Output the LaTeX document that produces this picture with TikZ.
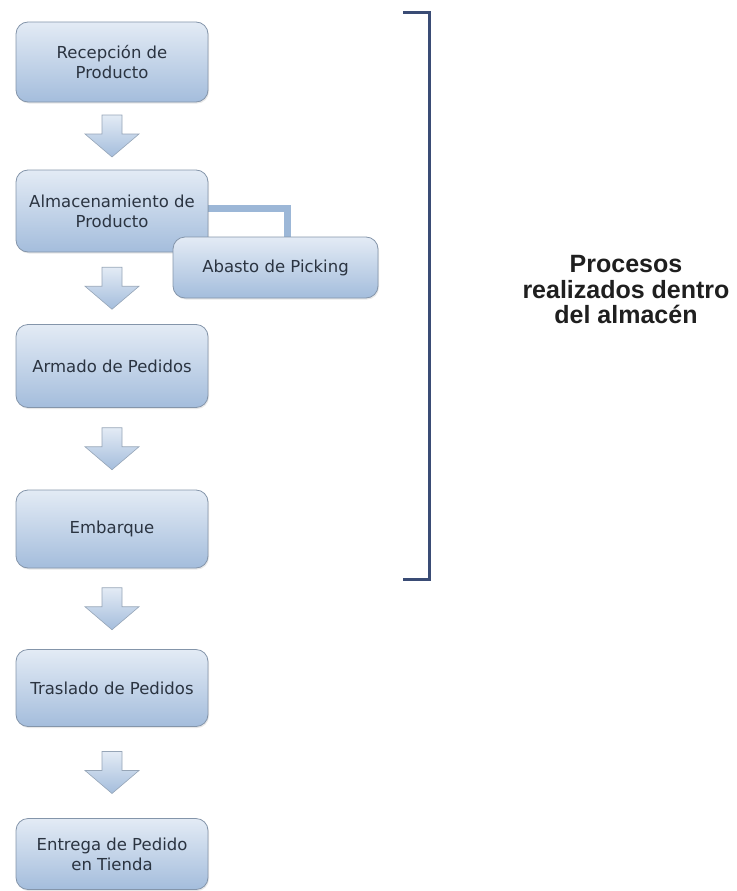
\documentclass[tikz,border=0pt]{standalone}
\usepackage{fontspec}
\setmainfont{DejaVu Sans}
\newfontfamily\titulofont{Liberation Sans}
\usetikzlibrary{positioning,calc,shadows,backgrounds}

\definecolor{cajaborde}{HTML}{8495AA}
\definecolor{cajaarriba}{HTML}{E3EBF5}
\definecolor{cajaabajo}{HTML}{A4BDDC}
\definecolor{enlaceazul}{HTML}{9CB7D7}
\definecolor{corchete}{HTML}{3A4C75}
\definecolor{textocaja}{HTML}{2B3441}

\begin{document}
\begin{tikzpicture}[x=1pt,y=-1pt,
    proceso/.style={draw=cajaborde,line width=.8pt,rounded corners=12pt,
      top color=cajaarriba,bottom color=cajaabajo,
      minimum width=192pt,minimum height=80pt,align=center,
      text=textocaja,font=\fontsize{16.5}{20}\selectfont,
      drop shadow={opacity=.18,shadow xshift=1pt,shadow yshift=-1.5pt}},
    flecha/.style={draw=cajaborde!85,line width=.6pt,
      top color=cajaarriba,bottom color=cajaabajo},
    enlace/.style={draw=enlaceazul,line width=7pt}]
  \useasboundingbox (0,0) rectangle (736,891);

  \node[proceso] (recepcion) at (112,62) {Recepción de\\Producto};
  \node[proceso,minimum height=82pt] (almacen) at (112,211)
    {Almacenamiento de\\Producto};
  \node[proceso,minimum width=205pt,minimum height=61pt] (abasto)
    at (275.5,267.5) {Abasto de Picking};
  \node[proceso,minimum height=83pt] (armado) at (112,366) {Armado de Pedidos};
  \node[proceso,minimum height=78pt] (embarque) at (112,529) {Embarque};
  \node[proceso,minimum height=77pt] (traslado) at (112,688) {Traslado de Pedidos};
  \node[proceso,minimum height=71pt] (entrega) at (112,854)
    {Entrega de Pedido\\en Tienda};

  % enlace hacia el abasto
  \begin{scope}[on background layer]
    \draw[enlace] ([yshift=3pt]almacen.east) -| ([xshift=11.5pt]abasto.north);
  \end{scope}

  % flechas de bloque
  \foreach \a/\b in {recepcion/almacen,almacen/armado,armado/embarque,
      embarque/traslado,traslado/entrega}
    \path[flecha] ($(\a.south)!.5!(\b.north)$) ++(-10,-21) -- ++(20,0)
      -- ++(0,19) -- ++(17,0) -- ++(-27,23) -- ++(-27,-23) -- ++(17,0) -- cycle;

  \draw[corchete,line width=3pt] (403,13) -| (429,579) -- (403,579);

  \node[font=\titulofont\bfseries\fontsize{25}{25.5}\selectfont,
    align=center,text=black!88] (titulo) at (626,290)
    {Procesos\\realizados dentro\\del almacén};
\end{tikzpicture}
\end{document}
